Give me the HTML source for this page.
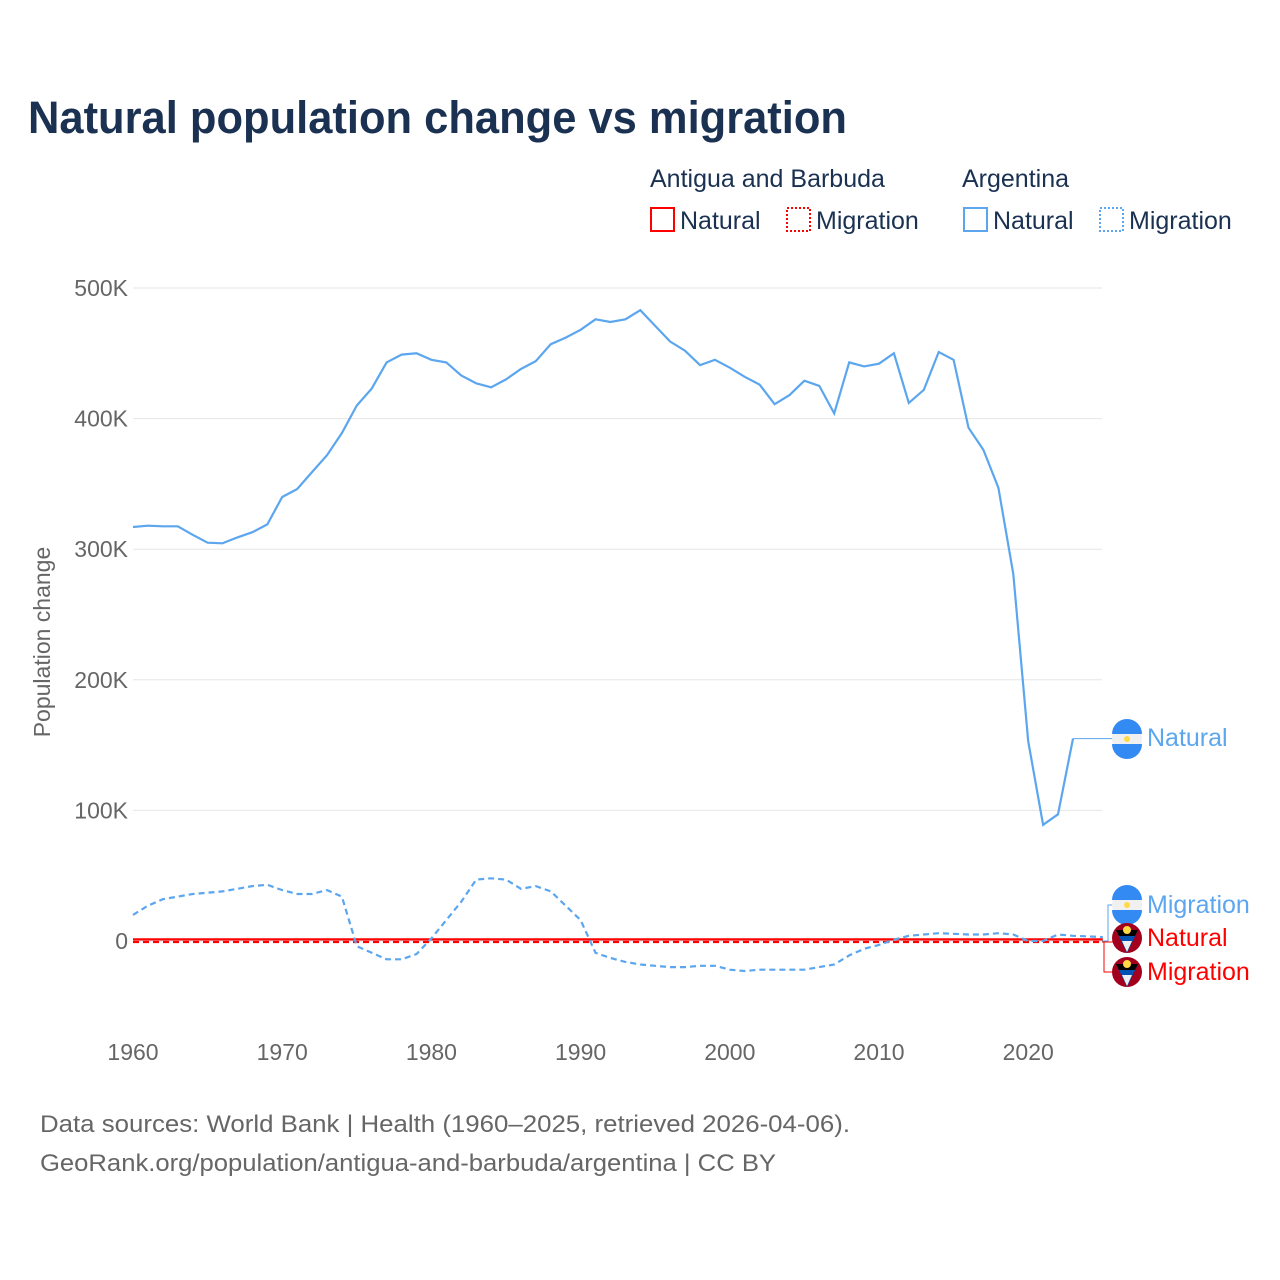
<!DOCTYPE html>
<html><head><meta charset="utf-8"><style>
body{margin:0;background:#fff;font-family:"Liberation Sans",sans-serif}
#wrap{position:relative;width:1280px;height:1280px;overflow:hidden}
</style></head><body>
<div id="wrap">
<svg id="chart" width="1280" height="1280" xmlns="http://www.w3.org/2000/svg">
<text x="28" y="133" font-size="45" font-weight="bold" fill="#1a3152" textLength="819" lengthAdjust="spacingAndGlyphs">Natural population change vs migration</text>
<g font-size="25" fill="#1a3152">
<text x="650" y="187">Antigua and Barbuda</text>
<text x="962" y="187">Argentina</text>
<g><rect x="651" y="208" width="23" height="23" fill="none" stroke="#f00" stroke-width="2"/><text x="680" y="229">Natural</text></g>
<g><rect x="787" y="208" width="23" height="23" fill="none" stroke="#f00" stroke-width="2" stroke-dasharray="2,2"/><text x="816" y="229">Migration</text></g>
<g><rect x="964" y="208" width="23" height="23" fill="none" stroke="#5ba6ee" stroke-width="2"/><text x="993" y="229">Natural</text></g>
<g><rect x="1100" y="208" width="23" height="23" fill="none" stroke="#5ba6ee" stroke-width="2" stroke-dasharray="2,2"/><text x="1129" y="229">Migration</text></g>
</g>
<text transform="translate(50,642) rotate(-90)" text-anchor="middle" font-size="23" fill="#666">Population change</text>
<g id="grid"></g><g id="yticks"></g><g id="xticks"></g><g id="series"></g><g id="labels"></g>
<text x="40" y="1132" font-size="24" fill="#666" textLength="810" lengthAdjust="spacingAndGlyphs">Data sources: World Bank | Health (1960–2025, retrieved 2026-04-06).</text>
<text x="40" y="1171" font-size="24" fill="#666" textLength="736" lengthAdjust="spacingAndGlyphs">GeoRank.org/population/antigua-and-barbuda/argentina | CC BY</text>
</svg></div>
<script>
const years=[];for(let y=1960;y<=2023;y++)years.push(y);
const argNatural=[317,318,317.5,317.5,311,305,304.5,309,313,319,340,346,359,372,389,410,423,443,449,450,445,443,433,427,424,430,438,444,457,462,468,476,474,476,483,471,459,452,441,445,439,432,426,411,418,429,425,404,443,440,442,450,412,422,451,445,393,376,347,281,153,89,97,155];
const migYears=[];for(let y=1960;y<=2025;y++)migYears.push(y);
const argMigration=[20,27,32,34,36,37,38,40,42,43,39,36,36,39,34,-4,-9,-14,-14,-10,2,16,30,47,48,47,40,42,38,27,16,-9,-13,-16,-18,-19,-20,-20,-19,-19,-22,-23,-22,-22,-22,-22,-20,-18,-11,-6,-3,1,4,5,6,5.5,5,5,6,5,0,0,5,4,3.5,3];
const agNatural=migYears.map(()=>1.2);
const agMigration=migYears.map(()=>-0.8);
const yTicks=[0,100,200,300,400,500];
const yTickLabels=["0","100K","200K","300K","400K","500K"];
const xTicks=[1960,1970,1980,1990,2000,2010,2020];
const NS="http://www.w3.org/2000/svg";
const X=y=>133+(y-1960)*14.92;
const Y=v=>941-v*1.306;
function mk(t,a,p){const e=document.createElementNS(NS,t);for(const k in a)e.setAttribute(k,a[k]);p.appendChild(e);return e;}
const grid=document.getElementById('grid'),yt=document.getElementById('yticks'),xt=document.getElementById('xticks'),ser=document.getElementById('series'),lab=document.getElementById('labels');
yTicks.forEach((v,i)=>{
 const l=mk('line',{x1:133,x2:1102,y1:Y(v),y2:Y(v),stroke:'#e6e6e6','stroke-width':1},grid);
 
 
 const t=mk('text',{x:128,y:Y(v)+8,'text-anchor':'end','font-size':23,fill:'#666'},yt);
 t.textContent=yTickLabels[i];
 
 
});
xTicks.forEach(v=>{
 const t=mk('text',{x:X(v),y:1060,'text-anchor':'middle','font-size':23,fill:'#666'},xt);
 t.textContent=v;
 
 
});
function path(xs,vs,color,dash,name){
 const d=vs.map((v,i)=>(i?'L':'M')+X(xs[i]).toFixed(1)+','+Y(v).toFixed(1)).join('');
 const p=mk('path',{d:d,fill:'none',stroke:color,'stroke-width':2.2},ser);
 if(dash)p.setAttribute('stroke-dasharray',dash);
 
 
}
path(migYears,agMigration,'#f00','6,4','line-antigua-migration');
path(migYears,agNatural,'#f00',null,'line-antigua-natural');
path(migYears,argMigration,'#5ba6ee','6,4','line-argentina-migration');
path(years,argNatural,'#5ba6ee',null,'line-argentina-natural');
const lastN=argNatural[argNatural.length-1];
let c=mk('path',{d:`M${X(2023)},${Y(lastN)}H1113`,stroke:'#5ba6ee',fill:'none','stroke-width':1},lab);


c=mk('path',{d:`M1102,941H1108V905H1113`,stroke:'#5ba6ee',fill:'none','stroke-width':1},lab);


c=mk('path',{d:`M1102,942H1113M1102,942H1104V972H1113`,stroke:'#f00',fill:'none','stroke-width':1},lab);


function flagArg(cx,cy){
 const g=mk('g',{},lab);
 
 
 mk('circle',{cx:cx,cy:cy,r:15,fill:'#f0f0f0'},g);
 mk('path',{d:`M${cx-15},${cy-5}A15,15 0 0 1 ${cx+15},${cy-5}Z`,fill:'#338af3'},g);
 mk('path',{d:`M${cx-15},${cy+5}A15,15 0 0 0 ${cx+15},${cy+5}Z`,fill:'#338af3'},g);
 mk('circle',{cx:cx,cy:cy,r:3,fill:'#ffda44'},g);
}
function flagAg(cx,cy){
 const g=mk('g',{},lab);
 
 
 mk('circle',{cx:cx,cy:cy,r:15,fill:'#a2001d'},g);
 mk('path',{d:`M${cx-11},${cy-8}L${cx+11},${cy-8}L${cx},${cy+15}Z`,fill:'#0052b4'},g);
 mk('path',{d:`M${cx-11},${cy-8}L${cx+11},${cy-8}L${cx+8},${cy-2}L${cx-8},${cy-2}Z`,fill:'#000'},g);
 mk('path',{d:`M${cx-5},${cy+3}L${cx+5},${cy+3}L${cx},${cy+14}Z`,fill:'#f0f0f0'},g);
 mk('circle',{cx:cx,cy:cy-8,r:4,fill:'#ffda44'},g);
}
flagArg(1127,739);flagArg(1127,905);flagAg(1127,938);flagAg(1127,972);
[[737,'Natural','#5ba6ee','label-argentina-natural'],[904,'Migration','#5ba6ee','label-argentina-migration'],[937,'Natural','#f00','label-antigua-natural'],[971,'Migration','#f00','label-antigua-migration']].forEach(a=>{
 const t=mk('text',{x:1147,y:a[0]+9,'font-size':25,fill:a[2]},lab);
 t.textContent=a[1];
 
 
});
</script>
</body></html>
